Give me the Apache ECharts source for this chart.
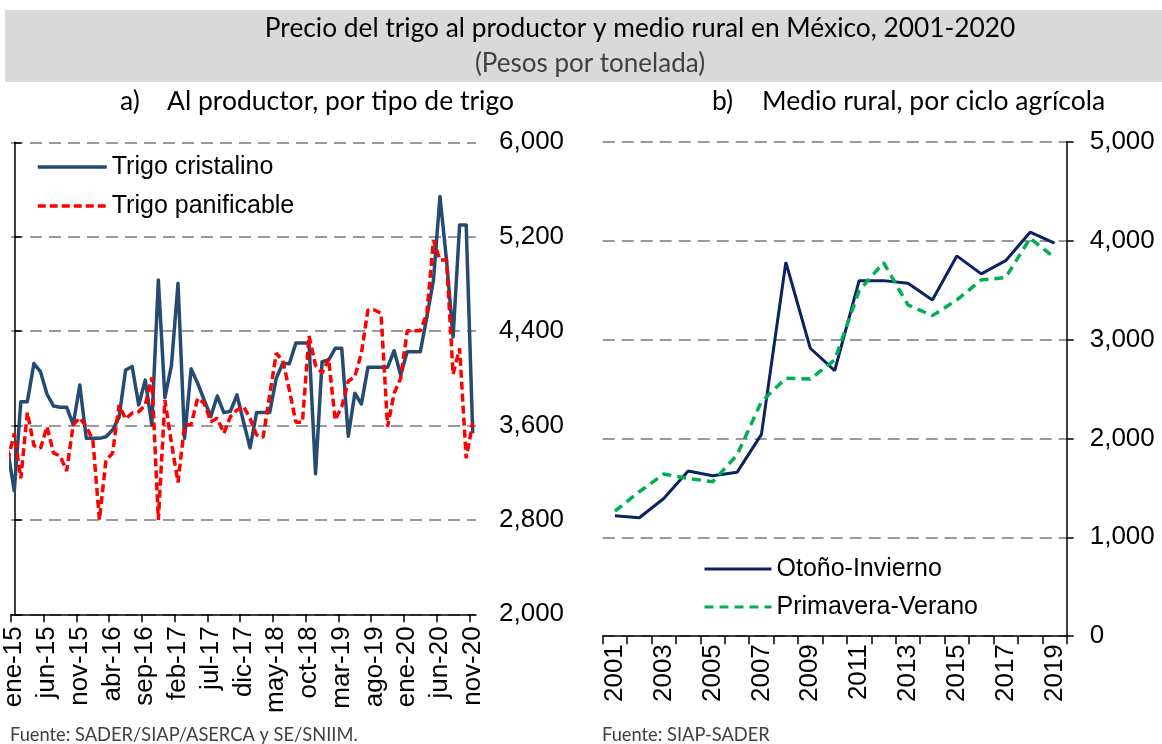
<!DOCTYPE html>
<html>
<head>
<meta charset="utf-8">
<script src="https://cdn.jsdelivr.net/npm/echarts@6/dist/echarts.min.js"></script>
<style>
html, body { margin: 0; padding: 0; background: #fff; }
#chart { width: 1162px; height: 744px; }
</style>
</head>
<body>
<div id="chart"></div>
<script>
// a) precio al productor, mensual. El primer dato (dic-14) cae a la izquierda del eje y queda recortado
const monthTicks = ['ene-15', 'jun-15', 'nov-15', 'abr-16', 'sep-16', 'feb-17', 'jul-17', 'dic-17',
  'may-18', 'oct-18', 'mar-19', 'ago-19', 'ene-20', 'jun-20', 'nov-20'];
const cristalino = [3390, 3045, 3802, 3802, 4125, 4056, 3865, 3765, 3754, 3754, 3608, 3943,
  3491, 3491, 3491, 3505, 3562, 3670, 4070, 4100, 3774, 3985, 3604, 4833, 3835, 4110, 4805,
  3491, 4080, 3958, 3816, 3675, 3850, 3709, 3720, 3860, 3632, 3410, 3710, 3710, 3710, 4000,
  4127, 4124, 4300, 4300, 4300, 3192, 4141, 4155, 4254, 4254, 3508, 3873, 3782, 4093, 4093,
  4093, 4093, 4234, 4028, 4226, 4226, 4226, 4520, 4830, 5540, 5000, 4350, 5300, 5300, 3534];
const panificable = [3302, 3534, 3152, 3710, 3430, 3407, 3590, 3366, 3343, 3215, 3605, 3665,
  3590, 3477, 2800, 3307, 3364, 3774, 3656, 3706, 3717, 3774, 4007, 2800, 3815, 3450, 3117,
  3604, 3608, 3830, 3788, 3632, 3661, 3534, 3675, 3731, 3762, 3661, 3520, 3500, 3860, 4212,
  4150, 3901, 3628, 3628, 4360, 4110, 4045, 4165, 3646, 3759, 3975, 4014, 4212, 4579, 4579,
  4551, 3590, 3873, 4000, 4403, 4403, 4403, 4551, 5172, 5002, 5002, 4035, 4254, 3322, 3622];

// b) precio medio rural, anual
const years = ['2001', '2002', '2003', '2004', '2005', '2006', '2007', '2008', '2009', '2010',
  '2011', '2012', '2013', '2014', '2015', '2016', '2017', '2018', '2019'];
const otonoInvierno = [1218, 1198, 1393, 1670, 1623, 1657, 2041, 3782, 2912, 2685,
  3596, 3596, 3570, 3401, 3846, 3664, 3798, 4086, 3975];
const primaveraVerano = [1265, 1461, 1640, 1596, 1562, 1832, 2372, 2608, 2601, 2794,
  3495, 3779, 3350, 3242, 3401, 3603, 3627, 4025, 3829];

const axisFont = 'Liberation Sans, Arial, sans-serif';
const titleFont = 'Lato, Open Sans, sans-serif';
const gridGray = '#9a9a9a';

// meses como indice: dic-14 = -1, ene-15 = 0 ...
const monthPairs = arr => arr.map((v, i) => [i - 1, v]);
const tickPos = monthTicks.map((_, j) => j * 5 - 0.5);
const labelPos = monthTicks.map((_, j) => j * 5);

const chart = echarts.init(document.getElementById('chart'));

const legendBase = {
  orient: 'vertical', padding: 0, itemHeight: 14,
  itemStyle: { opacity: 0 },
  textStyle: { fontFamily: axisFont, fontSize: 25, color: '#000', lineHeight: 28 }
};

chart.setOption({
  animation: false,
  backgroundColor: '#fff',
  graphic: [
    { type: 'rect', shape: { x: 5, y: 10, width: 1157, height: 72 }, style: { fill: '#d9d9d9' }, z: -1 },
    { type: 'text', style: { x: 640, y: 29, text: 'Precio del trigo al productor y medio rural en México, 2001-2020',
      align: 'center', verticalAlign: 'middle', fontFamily: titleFont, fontSize: 26.3, fill: '#000' } },
    { type: 'text', style: { x: 590, y: 64, text: '(Pesos por tonelada)',
      align: 'center', verticalAlign: 'middle', fontFamily: titleFont, fontSize: 26, fill: '#404040' } },
    { type: 'text', style: { x: 120, y: 101, text: 'a)', verticalAlign: 'middle', fontFamily: titleFont, fontSize: 26.5, fill: '#000' } },
    { type: 'text', style: { x: 167, y: 101, text: 'Al productor, por tipo de trigo', verticalAlign: 'middle', fontFamily: titleFont, fontSize: 26.5, fill: '#000' } },
    { type: 'text', style: { x: 712, y: 101, text: 'b)', verticalAlign: 'middle', fontFamily: titleFont, fontSize: 26.5, fill: '#000' } },
    { type: 'text', style: { x: 762, y: 101, text: 'Medio rural, por ciclo agrícola', verticalAlign: 'middle', fontFamily: titleFont, fontSize: 26.5, fill: '#000' } },
    { type: 'text', style: { x: 10, y: 735, text: 'Fuente: SADER/SIAP/ASERCA y SE/SNIIM.', verticalAlign: 'middle', fontFamily: titleFont, fontSize: 18.3, fill: '#404040' } },
    { type: 'text', style: { x: 602, y: 735, text: 'Fuente: SIAP-SADER', verticalAlign: 'middle', fontFamily: titleFont, fontSize: 18.3, fill: '#404040' } }
  ],
  legend: [
    Object.assign({}, legendBase, {
      data: ['Trigo cristalino', 'Trigo panificable'],
      left: 36, top: 153, itemWidth: 69, itemGap: 11,
      lineStyle: { width: 3.5 }
    }),
    Object.assign({}, legendBase, {
      data: ['Otoño-Invierno', 'Primavera-Verano'],
      left: 703, top: 555, itemWidth: 67, itemGap: 10,
      lineStyle: { width: 3 }
    })
  ],
  grid: [
    { left: 11, top: 142.3, width: 465, height: 472 },
    { left: 602.7, top: 141.8, width: 464, height: 494.4 }
  ],
  xAxis: [
    {
      type: 'value', gridIndex: 0, min: -0.5, max: 70.5,
      axisLine: { show: true, onZero: false, lineStyle: { color: '#000', width: 1.5 } },
      axisTick: { show: true, length: 8, customValues: tickPos, lineStyle: { color: '#000', width: 1.5 } },
      axisLabel: {
        customValues: labelPos, rotate: 90, margin: 12,
        fontFamily: axisFont, fontSize: 26, color: '#000',
        formatter: v => monthTicks[Math.round(v / 5)]
      },
      splitLine: { show: false }
    },
    {
      type: 'category', gridIndex: 1, data: years, boundaryGap: true,
      axisLine: { show: true, lineStyle: { color: '#000', width: 1.5 } },
      axisTick: { show: true, interval: 0, length: 8, lineStyle: { color: '#000', width: 1.5 } },
      axisLabel: { interval: 1, rotate: 90, margin: 8, fontFamily: axisFont, fontSize: 26, color: '#000' },
      splitLine: { show: false }
    }
  ],
  yAxis: [
    {
      type: 'value', gridIndex: 0, position: 'right', min: 2000, max: 6000, interval: 800,
      axisLine: { show: true, lineStyle: { color: '#000', width: 1.5 } },
      axisTick: { show: true, length: 7, lineStyle: { color: '#000', width: 1.5 } },
      axisLabel: { margin: 23, fontFamily: axisFont, fontSize: 26, color: '#000' },
      splitLine: { show: true, lineStyle: { color: gridGray, width: 2, type: [12, 7] } }
    },
    {
      type: 'value', gridIndex: 1, position: 'right', min: 0, max: 5000, interval: 1000,
      axisLine: { show: true, lineStyle: { color: '#000', width: 1.5 } },
      axisTick: { show: true, length: 7, lineStyle: { color: '#000', width: 1.5 } },
      axisLabel: { margin: 23, fontFamily: axisFont, fontSize: 26, color: '#000' },
      splitLine: { show: true, lineStyle: { color: gridGray, width: 2, type: [12, 7] } }
    }
  ],
  series: [
    {
      name: 'Trigo cristalino', type: 'line', xAxisIndex: 0, yAxisIndex: 0,
      data: monthPairs(cristalino), symbol: 'none', clip: true,
      lineStyle: { color: '#264b73', width: 3.5, join: 'round' }, itemStyle: { color: '#264b73' }
    },
    {
      name: 'Trigo panificable', type: 'line', xAxisIndex: 0, yAxisIndex: 0,
      data: monthPairs(panificable), symbol: 'none', clip: true,
      lineStyle: { color: '#ff0000', width: 3.5, type: [8, 4] }, itemStyle: { color: '#ff0000' }
    },
    {
      name: 'Otoño-Invierno', type: 'line', xAxisIndex: 1, yAxisIndex: 1,
      data: otonoInvierno, symbol: 'none',
      lineStyle: { color: '#0b2263', width: 3 }, itemStyle: { color: '#0b2263' }
    },
    {
      name: 'Primavera-Verano', type: 'line', xAxisIndex: 1, yAxisIndex: 1,
      data: primaveraVerano, symbol: 'none',
      lineStyle: { color: '#00b050', width: 3.5, type: [9, 6] }, itemStyle: { color: '#00b050' }
    }
  ]
});
</script>
</body>
</html>
